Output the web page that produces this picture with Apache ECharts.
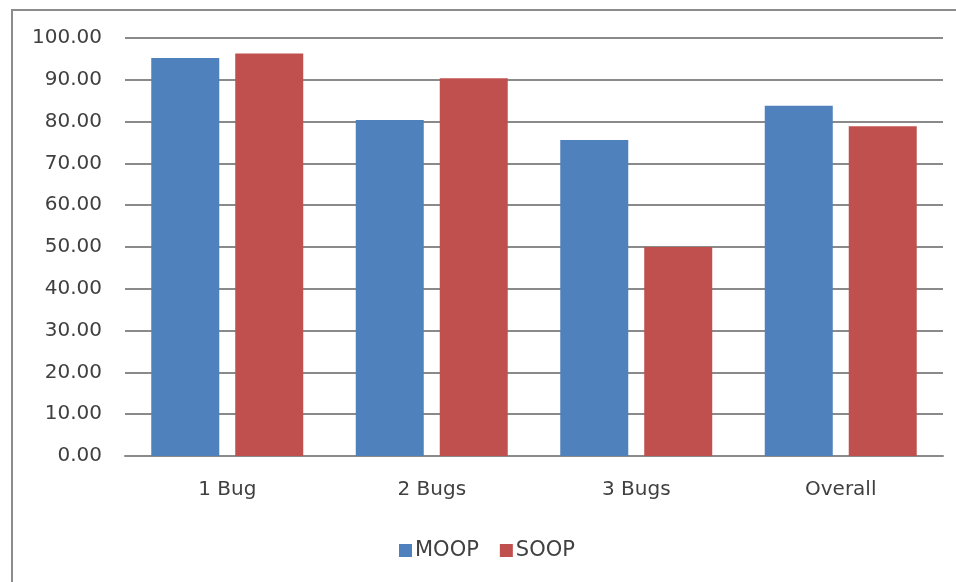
<!DOCTYPE html>
<html>
<head>
<meta charset="utf-8">
<title>MOOP vs SOOP</title>
<script src="https://cdn.jsdelivr.net/npm/echarts@6/dist/echarts.min.js"></script>
<style>
  html, body { margin: 0; padding: 0; background: #ffffff; }
  #chart { width: 956px; height: 582px; }
</style>
</head>
<body>
<div id="chart"></div>
<script>
// Detection results per number of injected bugs
const categories = ['1 Bug', '2 Bugs', '3 Bugs', 'Overall'];
const moopValues = [95.2, 80.4, 75.6, 83.8];
const soopValues = [96.3, 90.4, 50.0, 78.9];
const seriesNames = ['MOOP', 'SOOP'];

const textColor = '#404040';
const gridColor = '#8a8a8a';
const font = 'DejaVu Sans';

const chart = echarts.init(document.getElementById('chart'), null, { renderer: 'canvas' });

chart.setOption({
  animation: false,
  backgroundColor: '#ffffff',
  graphic: [
    {
      // chart frame (top and left edges visible)
      type: 'rect',
      shape: { x: 12, y: 10, width: 960, height: 600 },
      style: { fill: 'none', stroke: '#8c8c8c', lineWidth: 2 },
      silent: true
    }
  ],
  grid: { left: 125, right: 13, top: 38, bottom: 126, containLabel: false },
  legend: {
    left: 394,
    top: 535,
    itemWidth: 13,
    itemHeight: 13,
    itemGap: 21,
    icon: 'rect',
    textStyle: { fontFamily: font, fontSize: 21, color: textColor, padding: [0, 0, 0, -2] },
    data: seriesNames
  },
  xAxis: {
    type: 'category',
    data: categories,
    axisLine: { show: true, lineStyle: { color: gridColor, width: 2 } },
    axisTick: { show: false },
    axisLabel: { fontFamily: font, fontSize: 20, color: textColor, margin: 24 }
  },
  yAxis: {
    type: 'value',
    min: 0,
    max: 100,
    interval: 10,
    axisLine: { show: false },
    axisTick: { show: false },
    splitLine: { show: true, lineStyle: { color: gridColor, width: 2 } },
    axisLabel: {
      fontFamily: font,
      fontSize: 20,
      color: textColor,
      margin: 23,
      formatter: v => v.toFixed(2)
    }
  },
  series: [
    {
      name: seriesNames[0],
      type: 'bar',
      data: moopValues,
      barWidth: 68,
      barGap: '23.5%',
      itemStyle: { color: '#4f81bd' }
    },
    {
      name: seriesNames[1],
      type: 'bar',
      data: soopValues,
      barWidth: 68,
      itemStyle: { color: '#c0504d' }
    }
  ]
});
</script>
</body>
</html>
